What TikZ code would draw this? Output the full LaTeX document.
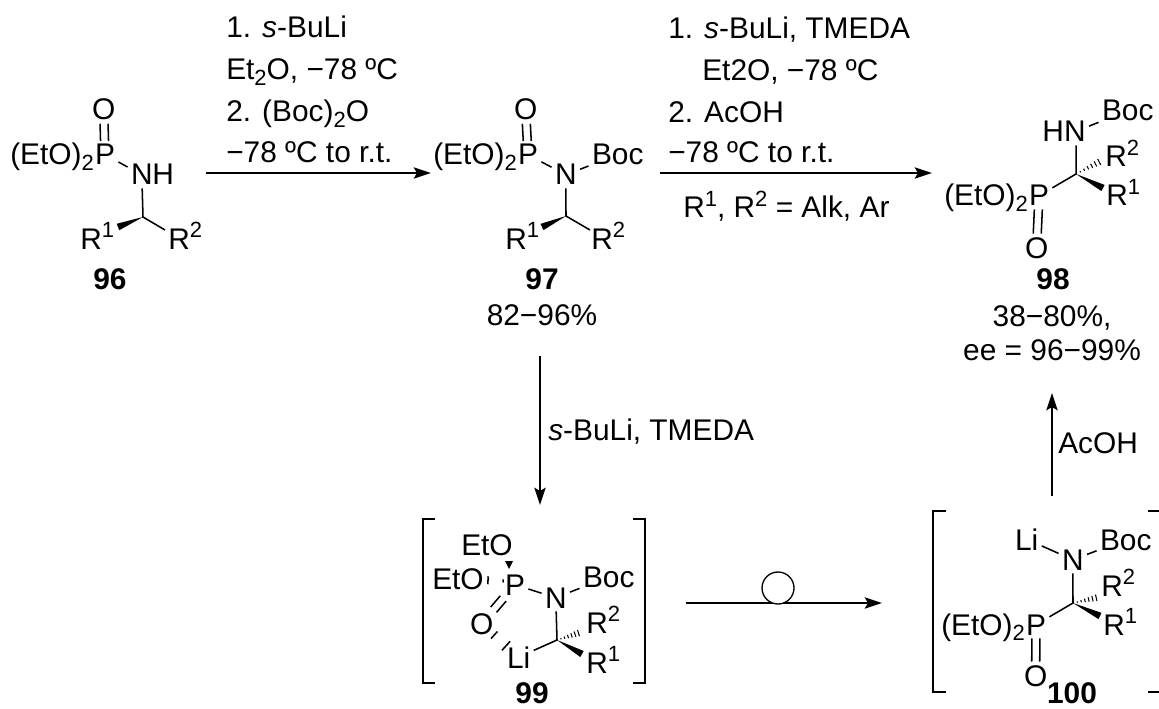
\documentclass[tikz,border=0pt]{standalone}
\usepackage{fontspec}
\setmainfont{Liberation Sans}
\usetikzlibrary{calc,arrows.meta}
\newcommand\subs[1]{\raisebox{-.32ex}{\fontsize{16.5}{16.5}\selectfont #1}}
\newcommand\sups[1]{\raisebox{.72ex}{\fontsize{16.5}{16.5}\selectfont #1}}
\newcommand\wedgebond[2]{\fill ($(#1)$) -- ($(#2)!2.6pt!90:(#1)$) -- ($(#2)!2.6pt!-90:(#1)$) -- cycle;}
\newcommand\hashbond[2]{\foreach \t/\w in {.16/.5,.30/.9,.44/1.3,.58/1.7,.72/2.1,.86/2.5,1/2.9}
  {\draw[line width=.8pt] ($(#1)!\t!(#2)!\w pt!90:(#2)$) -- ($(#1)!\t!(#2)!\w pt!-90:(#2)$);}}
\newcommand\ticks[3]{\foreach \t/\w in {#3}
  {\draw[bond] ($(#1)!\t!(#2)!\w pt!90:(#2)$) -- ($(#1)!\t!(#2)!\w pt!-90:(#2)$);}}
\tikzset{
  x=.75pt,y=-.75pt,
  every node/.style={font=\fontsize{22.4}{22.4}\selectfont},
  atom/.style={inner sep=0pt,outer sep=2.6pt,anchor=base west,xshift=-2.6pt},
  lab/.style={inner sep=0pt,anchor=base west},
  num/.style={inner sep=0pt,anchor=base,font=\fontsize{22.4}{22.4}\selectfont\bfseries},
  mid/.style={inner sep=0pt,anchor=base},
  bond/.style={line width=1.15pt},
  rxn/.style={line width=1.3pt,-{Stealth[length=13pt,width=8.5pt,inset=2.5pt]}},
  dbl1/.style={bond,transform canvas={xshift=-3pt}},
  dbl2/.style={bond,transform canvas={xshift=3pt}},
}
\begin{document}
\begin{tikzpicture}
\useasboundingbox (0,0) rectangle (1159,709);
% ---------- 96
\node[lab] (e96) at (10,165) {(EtO)\subs{2}};
\node[atom] (P96) at (95,165) {P};
\node[atom] (O96) at (92,120) {O};
\node[atom] (N96) at (131,185) {N};
\node[lab] (H96) at (152,185) {H};
\node[lab] (Ra96) at (80,249) {R\sups{1}};
\node[lab] (Rb96) at (168,249) {R\sups{2}};
\node[num] (n96) at (110,289) {96};
\coordinate (C96) at (143,217);
\coordinate (w96) at (118,227);
\coordinate (b96) at (165,230);
\draw[dbl1] (O96) -- (P96);
\draw[dbl2] (O96) -- (P96);
\draw[bond] (P96) -- (N96);
\draw[bond] (N96) -- (C96) -- (b96);
\wedgebond{C96}{w96}
% ---------- 97
\node[lab] (e97) at (433,165) {(EtO)\subs{2}};
\node[atom] (P97) at (518,165) {P};
\node[atom] (O97) at (514,120) {O};
\node[atom] (N97) at (555,185) {N};
\node[atom] (B97) at (592,165) {Boc};
\node[lab] (Ra97) at (505,249) {R\sups{1}};
\node[lab] (Rb97) at (591,249) {R\sups{2}};
\node[num] (n97) at (542,289) {97};
\node[mid] (y97) at (542,325) {82−96\%};
\coordinate (C97) at (566,216);
\coordinate (w97) at (542,227);
\coordinate (b97) at (590,230);
\draw[dbl1] (O97) -- (P97);
\draw[dbl2] (O97) -- (P97);
\draw[bond] (P97) -- (N97);
\draw[bond] (N97) -- (B97);
\draw[bond] (N97) -- (C97) -- (b97);
\wedgebond{C97}{w97}
% ---------- 98
\node[lab] (e98) at (944,206) {(EtO)\subs{2}};
\node[atom] (P98) at (1029,206) {P};
\node[atom] (O98) at (1025,258) {O};
\node[lab] (H98) at (1042,142) {H};
\node[atom] (N98) at (1064,142) {N};
\node[atom] (B98) at (1102,121) {Boc};
\node[lab] (Rb98) at (1105,167) {R\sups{2}};
\node[lab] (Ra98) at (1106,206) {R\sups{1}};
\node[num] (n98) at (1053,289) {98};
\node[mid] (y98) at (1052,326) {38−80\%,};
\node[mid] (z98) at (1052,360) {ee = 96−99\%};
\coordinate (C98) at (1076,174);
\coordinate (w98) at (1103,188);
\coordinate (h98) at (1103,160);
\draw[dbl1] (O98) -- (P98);
\draw[dbl2] (O98) -- (P98);
\draw[bond] (N98) -- (B98);
\draw[bond] (N98.south -| C98) -- (C98) -- (P98);
\wedgebond{C98}{w98}
\hashbond{C98}{h98}
% ---------- 99
\draw[bond] (435,519) -- (423,519) -- (423,683) -- (435,683);
\draw[bond] (633,519) -- (645,519) -- (645,683) -- (633,683);
\node[lab] (Ea99) at (461,555) {EtO};
\node[lab] (Eb99) at (432,589) {EtO};
\node[atom] (P99) at (505,595) {P};
\node[atom] (N99) at (545,608) {N};
\node[atom] (B99) at (583,587) {Boc};
\node[atom] (O99) at (470,634) {O};
\node[atom] (L99) at (507,668) {Li};
\node[lab] (Rb99) at (586,633) {R\sups{2}};
\node[lab] (Ra99) at (586,673) {R\sups{1}};
\node[num] (n99) at (532,703) {99};
\coordinate (C99) at (557,640);
\coordinate (w99) at (582,654);
\coordinate (h99) at (582,632);
\coordinate (wa99) at (509,561);
\coordinate (wb99) at (509,569);
\coordinate (ha99) at (482,580);
\coordinate (hb99) at (506,581);
\draw[bond,transform canvas={shift={(-2.2pt,2pt)}}] (O99) -- (P99);
\draw[bond,transform canvas={shift={(2.2pt,-2pt)}}] (O99) -- (P99);
\draw[bond] (P99) -- (N99);
\draw[bond] (N99) -- (B99);
\draw[bond] (N99) -- (C99) -- (L99);
\wedgebond{C99}{w99}
\hashbond{C99}{h99}
\ticks{O99}{L99}{.34/3.6,.66/4.6}
\fill (wb99) -- ($(wa99)+(-4,0)$) -- ($(wa99)+(4,0)$) -- cycle;
\ticks{hb99}{ha99}{.12/1.2,.75/3}
% ---------- 100
\draw[bond] (946,511) -- (933,511) -- (933,692) -- (946,692);
\draw[bond] (1148,511) -- (1159,511);
\draw[bond] (1148,692) -- (1159,692);
\node[atom] (L100) at (1015,550) {Li};
\node[atom] (N100) at (1062,570) {N};
\node[atom] (B100) at (1100,550) {Boc};
\node[lab] (Rb100) at (1101,596) {R\sups{2}};
\node[lab] (Ra100) at (1103,635) {R\sups{1}};
\node[lab] (e100) at (941,635) {(EtO)\subs{2}};
\node[atom] (P100) at (1026,635) {P};
\node[atom] (O100) at (1024,686) {O};
\node[num] (n100) at (1072,703) {100};
\coordinate (C100) at (1073,603);
\coordinate (w100) at (1100,616);
\coordinate (h100) at (1100,597);
\draw[dbl1] (O100) -- (P100);
\draw[dbl2] (O100) -- (P100);
\draw[bond] (L100) -- (N100);
\draw[bond] (N100) -- (B100);
\draw[bond] (N100) -- (C100) -- (P100);
\wedgebond{C100}{w100}
\hashbond{C100}{h100}
% ---------- arrows
\coordinate (a1) at (206,173); \coordinate (a2) at (431,173);
\coordinate (b1) at (660,173); \coordinate (b2) at (932,173);
\coordinate (c1) at (540,356); \coordinate (c2) at (540,505);
\coordinate (d1) at (686,603); \coordinate (d2) at (882,603);
\coordinate (f1) at (1052,496); \coordinate (f2) at (1052,393);
\draw[rxn] (a1) -- (a2);
\draw[rxn] (b1) -- (b2);
\draw[rxn] (c1) -- (c2);
\draw[rxn] (d1) -- (d2);
\draw[rxn] (f1) -- (f2);
\coordinate (ring) at (778,588);
\draw[line width=1pt,fill=white] (ring) circle (16);
% ---------- conditions
\node[lab] (t1) at (226,38) {1. \textit{s}-BuLi};
\node[lab] (t2) at (226,80) {Et\subs{2}O, −78 ºC};
\node[lab] (t3) at (226,122) {2. (Boc)\subs{2}O};
\node[lab] (t4) at (226,163) {−78 ºC to r.t.};
\node[lab] (u1) at (668,39) {1. \textit{s}-BuLi, TMEDA};
\node[lab] (u2) at (702,81) {Et2O, −78 ºC};
\node[lab] (u3) at (668,123) {2. AcOH};
\node[lab] (u4) at (668,163) {−78 ºC to r.t.};
\node[lab] (u5) at (683,218) {R\sups{1}, R\sups{2} = Alk, Ar};
\node[lab] (v1) at (548,440) {\textit{s}-BuLi, TMEDA};
\node[lab] (v2) at (1058,453) {AcOH};
\end{tikzpicture}
\end{document}
